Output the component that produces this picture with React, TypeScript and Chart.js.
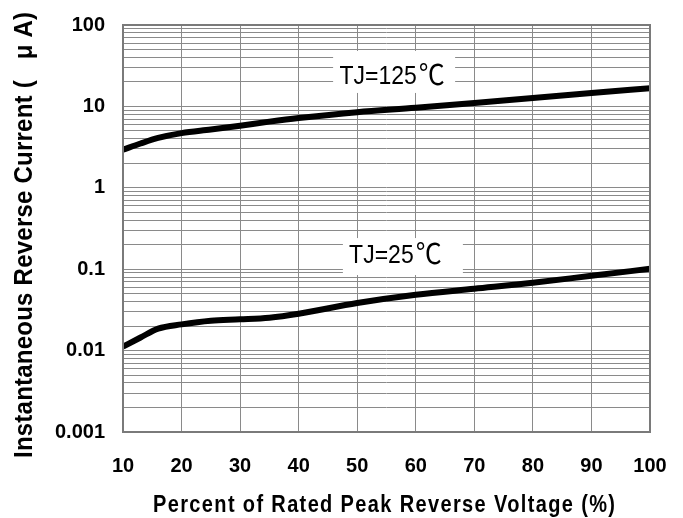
import React, { useEffect, useRef } from "react";
import { Chart, registerables } from "chart.js";

Chart.register(...registerables);

const voltagePct = [10, 13, 16, 20, 25, 30, 35, 40, 50, 60, 70, 80, 90, 100];
const current125 = [2.93, 3.5, 4.1, 4.7, 5.2, 5.8, 6.5, 7.2, 8.5, 9.6, 11.0, 12.7, 14.6, 16.7];
const current25 = [0.0112, 0.0145, 0.0186, 0.021, 0.0233, 0.0242, 0.0254, 0.0284, 0.0385, 0.0486, 0.0575, 0.068, 0.083, 0.101];
const xTicks = [10, 20, 30, 40, 50, 60, 70, 80, 90, 100];
const yTickLabels = ["0.001", "0.01", "0.1", "1", "10", "100"];
const xTitle = "Percent of Rated Peak Reverse Voltage (%)";
const yTitle = "Instantaneous Reverse Current (   μ A)";
const curveLabels = [
  { main: "TJ=125", unit: "℃", x: 56.3, y: 26.5, w: 122, h: 42, dx: -2, dy: 12 },
  { main: "TJ=25", unit: "℃", x: 57.8, y: 0.143, w: 120, h: 37, dx: -7.5, dy: 6.5 },
];

const FONT = "'Liberation Sans', Arial, sans-serif";

const decorPlugin = {
  id: "decor",
  afterDatasetsDraw(chart: any) {
    const { ctx, chartArea, scales } = chart;
    ctx.save();
    for (const l of curveLabels) {
      const px = scales.x.getPixelForValue(l.x);
      const py = scales.y.getPixelForValue(l.y);
      ctx.fillStyle = "#ffffff";
      ctx.fillRect(px - l.w / 2, py - l.h / 2, l.w, l.h);
      ctx.fillStyle = "#000000";
      ctx.font = `23px ${FONT}`;
      const wMain = ctx.measureText(l.main).width;
      ctx.font = `26px 'Noto Sans CJK SC', sans-serif`;
      const wUnit = ctx.measureText(l.unit).width;
      const total = wMain + wUnit + 2;
      const x0 = px + l.dx - total / 2;
      ctx.save();
      ctx.translate(0, py + l.dy);
      ctx.scale(1, 1.1);
      ctx.textAlign = "left";
      ctx.textBaseline = "alphabetic";
      ctx.font = `23px ${FONT}`;
      ctx.fillText(l.main, x0, 0);
      ctx.font = `26px 'Noto Sans CJK SC', sans-serif`;
      ctx.fillText(l.unit, x0 + wMain + 2, 1);
      ctx.restore();
    }
    ctx.strokeStyle = "#7a7a7a";
    ctx.lineWidth = 2;
    ctx.strokeRect(chartArea.left, chartArea.top, chartArea.right - chartArea.left, chartArea.bottom - chartArea.top);
    ctx.restore();
  },
  afterDraw(chart: any) {
    const { ctx } = chart;
    ctx.save();
    ctx.fillStyle = "#000";
    ctx.font = `bold 20px ${FONT}`;
    (ctx as any).letterSpacing = "0px";
    let w = ctx.measureText(xTitle).width;
    let sp = (462 - w) / (xTitle.length - 1);
    (ctx as any).letterSpacing = `${sp}px`;
    ctx.translate(384 + sp / 2, 512);
    ctx.scale(1, 1.15);
    ctx.textAlign = "center";
    ctx.textBaseline = "alphabetic";
    ctx.fillText(xTitle, 0, 0);
    ctx.restore();
    ctx.save();
    ctx.fillStyle = "#000";
    ctx.font = `bold 24px ${FONT}`;
    (ctx as any).letterSpacing = "0px";
    w = ctx.measureText(yTitle).width;
    sp = (446 - w) / (yTitle.length - 1);
    (ctx as any).letterSpacing = `${sp}px`;
    ctx.translate(32, 235 - sp / 2);
    ctx.rotate(-Math.PI / 2);
    ctx.scale(1, 1.08);
    ctx.textAlign = "center";
    ctx.textBaseline = "alphabetic";
    ctx.fillText(yTitle, 0, 0);
    ctx.restore();
  },
};

export default function App() {
  const ref = useRef<HTMLCanvasElement>(null);
  useEffect(() => {
    if (!ref.current) return;
    const chart = new Chart(ref.current, {
      type: "line",
      data: {
        datasets: [
          {
            label: "TJ=125℃",
            data: voltagePct.map((v, i) => ({ x: v, y: current125[i] })),
            borderColor: "#000",
            borderWidth: 6,
            pointRadius: 0,
            cubicInterpolationMode: "monotone",
          },
          {
            label: "TJ=25℃",
            data: voltagePct.map((v, i) => ({ x: v, y: current25[i] })),
            borderColor: "#000",
            borderWidth: 6,
            pointRadius: 0,
            cubicInterpolationMode: "monotone",
          },
        ],
      },
      options: {
        animation: false,
        responsive: true,
        maintainAspectRatio: false,
        layout: { padding: { top: 25, right: 33, left: 0, bottom: 0 } },
        plugins: { legend: { display: false }, tooltip: { enabled: false } },
        scales: {
          x: {
            type: "linear",
            min: 10,
            max: 100,
            afterBuildTicks: (s: any) => {
              s.ticks = xTicks.map((v) => ({ value: v }));
            },
            afterFit: (s: any) => {
              s.height = 86;
              s.paddingLeft = 0;
              s.paddingRight = 0;
            },
            grid: { color: "#8a8a8a", lineWidth: 1, drawTicks: false },
            border: { display: false },
            ticks: {
              color: "#000",
              padding: 22,
              maxRotation: 0,
              font: { family: FONT, size: 20, weight: "bold" },
            },
            title: { display: false },
          },
          y: {
            type: "logarithmic",
            min: 0.001,
            max: 100,
            afterBuildTicks: (s: any) => {
              const t: any[] = [];
              for (let e = -3; e <= 2; e++) {
                for (let m = 1; m <= 9; m++) {
                  const v = m * Math.pow(10, e);
                  t.push({ value: v });
                  if (e === 2) break;
                }
              }
              s.ticks = t;
            },
            afterFit: (s: any) => {
              s.width = 123;
              s.paddingTop = 0;
              s.paddingBottom = 0;
            },
            grid: { color: "#8a8a8a", lineWidth: 1, drawTicks: false },
            border: { display: false },
            ticks: {
              color: "#000",
              padding: 18,
              autoSkip: false,
              font: { family: FONT, size: 20, weight: "bold" },
              callback: (v: any) => {
                const e = Math.log10(Number(v));
                if (Math.abs(e - Math.round(e)) < 1e-6) return yTickLabels[Math.round(e) + 3];
                return "";
              },
            },
            title: { display: false },
          },
        },
      } as any,
      plugins: [decorPlugin],
    });
    return () => chart.destroy();
  }, []);
  return (
    <div style={{ position: "absolute", left: 0, top: 0, width: 683, height: 518, background: "#fff" }}>
      <canvas ref={ref} />
    </div>
  );
}
